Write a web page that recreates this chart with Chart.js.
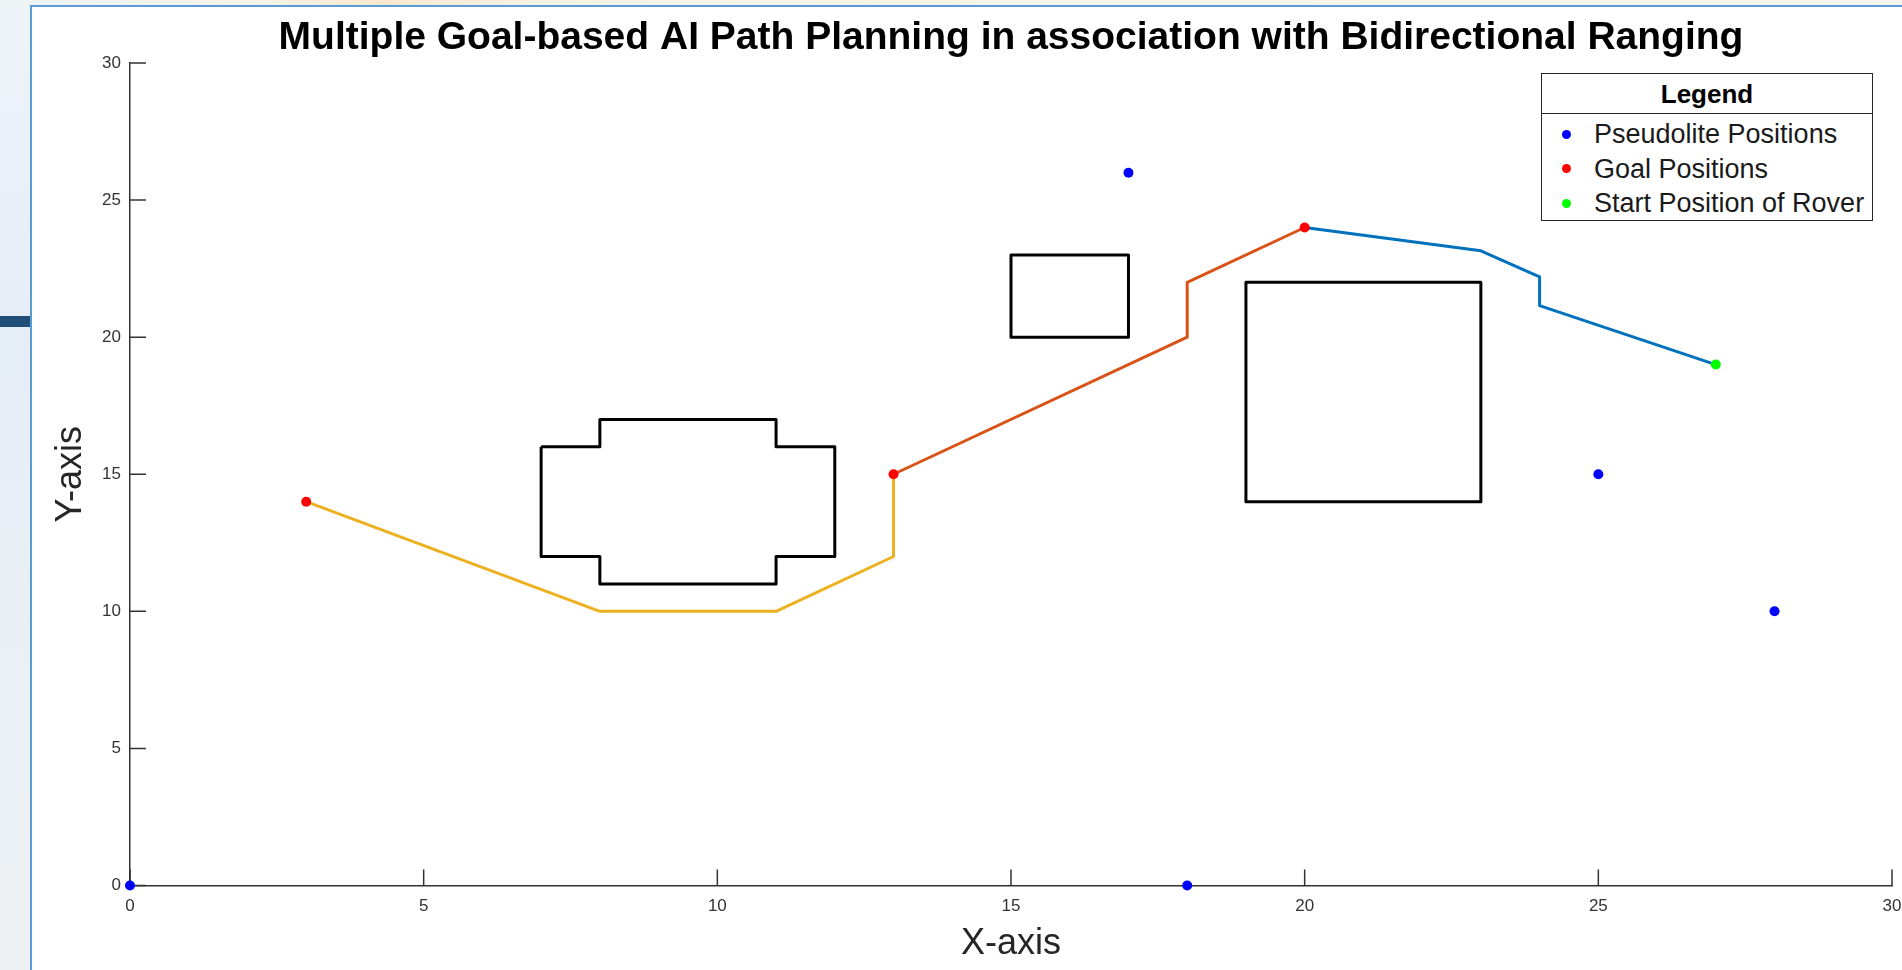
<!DOCTYPE html>
<html>
<head>
<meta charset="utf-8">
<title>Multiple Goal-based AI Path Planning</title>
<script src="https://cdn.jsdelivr.net/npm/chart.js@4.4.1/dist/chart.umd.min.js"></script>
<style>
  html, body { margin: 0; padding: 0; }
  body {
    width: 1902px; height: 970px; position: relative; overflow: hidden;
    background: linear-gradient(180deg, #eef3f9 0%, #e5edf6 35%, #eaf0f5 70%, #edf0f2 100%);
    font-family: "Liberation Sans", Arial, sans-serif;
  }
  #topStrip {
    position: absolute; left: 0; top: 0; width: 1902px; height: 6px;
    background: linear-gradient(90deg, #eef3f6 0%, #f8f4e6 14%, #fbe8cf 20%, #f9f3e4 28%, #f8f6ec 100%);
  }
  #bar { position: absolute; left: 0; top: 316px; width: 31px; height: 11px; background: #1f4e79; }
  #panel {
    position: absolute; left: 30px; top: 5px; right: 0; bottom: 0; background: #fff;
    border-left: 2px solid #5b9bd5; border-top: 2px solid #5b9bd5;
  }
  #chart { position: absolute; left: 0; top: 0; }
  #legend {
    position: absolute; left: 1541px; top: 73px; width: 330px; height: 146px;
    border: 1px solid #262626; background: #fff;
  }
  #legend .head {
    height: 39px; line-height: 41px; border-bottom: 1px solid #262626;
    text-align: center; font-weight: bold; font-size: 26px; color: #000;
  }
  #legend ul { list-style: none; margin: 0; padding: 3px 0 0 0; }
  #legend li {
    height: 34.5px; line-height: 34.5px; font-size: 27px; color: #1a1a1a;
    white-space: nowrap; position: relative; padding-left: 52px;
  }
  #legend li span {
    position: absolute; left: 19.5px; top: 50%; width: 9px; height: 9px;
    margin-top: -4.5px; border-radius: 50%;
  }
</style>
</head>
<body>
<div id="topStrip"></div>
<div id="bar"></div>
<div id="panel"></div>
<canvas id="chart" width="1902" height="970"></canvas>
<div id="legend"></div>

<script>
// axis ticks
var tickValues = [0, 5, 10, 15, 20, 25, 30];

// marker positions
var pseudoliteX = [0, 17, 18, 25, 28];
var pseudoliteY = [0, 26, 0, 15, 10];
var goalX = [3, 13, 20];
var goalY = [14, 15, 24];
var startX = [27];
var startY = [19];

// planned path segments (start -> goal 3 -> goal 2 -> goal 1)
var pathBlueX = [27, 24, 24, 23, 20];
var pathBlueY = [19, 21.15, 22.2, 23.15, 24];
var pathOrangeX = [20, 18, 18, 13];
var pathOrangeY = [24, 22, 20, 15];
var pathYellowX = [13, 13, 11, 8, 3];
var pathYellowY = [15, 12, 10, 10, 14];

// obstacles (closed outlines)
var obstacleCrossX = [7, 8, 8, 11, 11, 12, 12, 11, 11, 8, 8, 7, 7];
var obstacleCrossY = [16, 16, 17, 17, 16, 16, 12, 12, 11, 11, 12, 12, 16];
var obstacleSmallX = [15, 17, 17, 15, 15];
var obstacleSmallY = [20, 20, 23, 23, 20];
var obstacleBigX = [19, 23, 23, 19, 19];
var obstacleBigY = [14, 14, 22, 22, 14];

function toPoints(xs, ys) {
    return xs.map(function (x, i) { return {x: x, y: ys[i]}; });
}

function markerSet(label, xs, ys, color) {
    return {
        label: label,
        data: toPoints(xs, ys),
        backgroundColor: color,
        borderColor: color,
        pointRadius: 5,
        pointBorderWidth: 0,
        showLine: false,
        clip: false
    };
}

function lineSet(xs, ys, color) {
    return {
        label: '',
        data: toPoints(xs, ys),
        borderColor: color,
        backgroundColor: color,
        borderWidth: 3,
        pointRadius: 0,
        showLine: true,
        fill: false,
        tension: 0,
        borderJoinStyle: 'round',
        hideInLegend: true
    };
}

Chart.defaults.font.family = '"Liberation Sans", Arial, sans-serif';

// MATLAB style ticks pointing into the plot
var innerTicks = {
    id: 'innerTicks',
    beforeDatasetsDraw: function (chart) {
        var ctx = chart.ctx;
        var area = chart.chartArea;
        var xs = chart.scales.x, ys = chart.scales.y;
        ctx.save();
        ctx.strokeStyle = '#333';
        ctx.lineWidth = 1.5;
        ctx.beginPath();
        tickValues.forEach(function (v) {
            var px = xs.getPixelForValue(v);
            ctx.moveTo(px, area.bottom);
            ctx.lineTo(px, area.bottom - 16);
            var py = ys.getPixelForValue(v);
            ctx.moveTo(area.left, py);
            ctx.lineTo(area.left + 16, py);
        });
        ctx.stroke();
        ctx.restore();
    }
};

var htmlLegend = {
    id: 'htmlLegend',
    afterUpdate: function (chart) {
        var box = document.getElementById('legend');
        var html = '<div class="head">Legend</div><ul>';
        chart.data.datasets.forEach(function (ds) {
            if (ds.hideInLegend) return;
            html += '<li><span style="background:' + ds.backgroundColor + '"></span>' + ds.label + '</li>';
        });
        html += '</ul>';
        box.innerHTML = html;
    }
};

var chartPlaceholder = document.getElementById('chart');
var pathChart = new Chart(chartPlaceholder, {
    type: 'scatter',
    data: {
        datasets: [
            markerSet('Pseudolite Positions', pseudoliteX, pseudoliteY, '#0000ff'),
            markerSet('Goal Positions', goalX, goalY, '#ff0000'),
            markerSet('Start Position of Rover', startX, startY, '#00ff00'),
            lineSet(pathBlueX, pathBlueY, '#0072bd'),
            lineSet(pathOrangeX, pathOrangeY, '#d95319'),
            lineSet(pathYellowX, pathYellowY, '#edb120'),
            lineSet(obstacleCrossX, obstacleCrossY, '#000000'),
            lineSet(obstacleSmallX, obstacleSmallY, '#000000'),
            lineSet(obstacleBigX, obstacleBigY, '#000000')
        ]
    },
    options: {
        responsive: false,
        animation: false,
        devicePixelRatio: 1,
        events: [],
        layout: {
            autoPadding: false,
            padding: {top: 0, left: 0, right: 10, bottom: 0}
        },
        plugins: {
            legend: {display: false},
            tooltip: {enabled: false},
            title: {
                display: true,
                fullSize: false,
                text: 'Multiple Goal-based AI Path Planning in association with Bidirectional Ranging',
                color: '#000',
                font: {size: 39, weight: 'bold'},
                padding: {top: 14.6, bottom: 1.6}
            }
        },
        scales: {
            x: {
                type: 'linear',
                min: 0,
                max: 30,
                afterBuildTicks: function (scale) {
                    scale.ticks = tickValues.map(function (v) { return {value: v}; });
                },
                afterFit: function (scale) {
                    scale.height = 84.5;
                    // keep the last tick label from shrinking the plot
                    scale.paddingRight = 0;
                    scale.paddingLeft = 0;
                },
                ticks: {padding: 11, color: '#333', font: {size: 17}, maxRotation: 0, autoSkip: false},
                grid: {display: false, drawTicks: false},
                border: {display: true, color: '#333', width: 1.5},
                title: {
                    display: true,
                    text: 'X-axis',
                    color: '#262626',
                    font: {size: 36},
                    padding: {top: 0, bottom: 4.4}
                }
            },
            y: {
                type: 'linear',
                min: 0,
                max: 30,
                afterBuildTicks: function (scale) {
                    scale.ticks = tickValues.map(function (v) { return {value: v}; });
                },
                afterFit: function (scale) { scale.width = 130; },
                ticks: {padding: 9, color: '#333', font: {size: 17}, autoSkip: false},
                grid: {display: false, drawTicks: false},
                border: {display: true, color: '#333', width: 1.5},
                title: {
                    display: true,
                    text: 'Y-axis',
                    color: '#262626',
                    font: {size: 36},
                    padding: {top: 49.4, bottom: 0}
                }
            }
        }
    },
    plugins: [innerTicks, htmlLegend]
});
</script>
</body>
</html>
